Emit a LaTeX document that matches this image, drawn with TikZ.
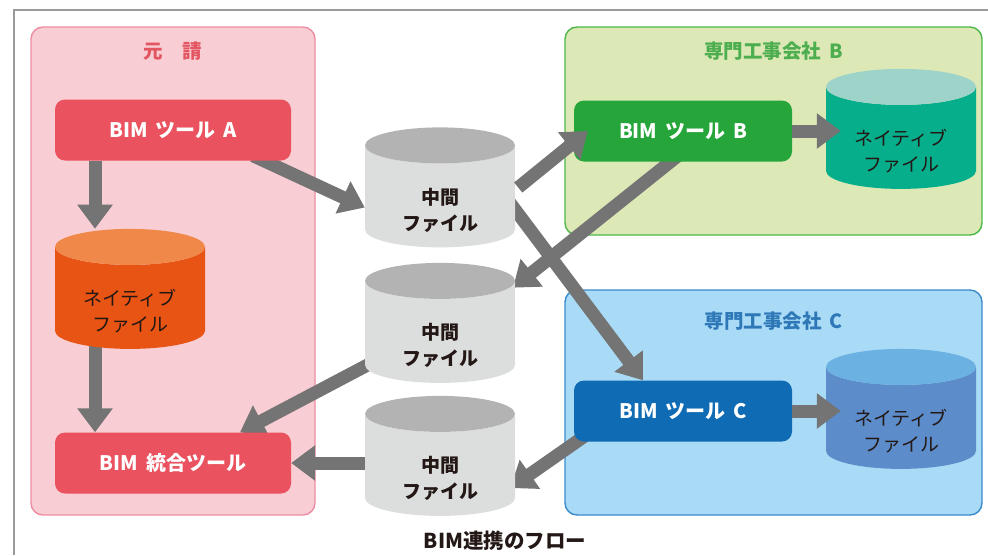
\documentclass[tikz,border=0pt]{standalone}
\usepackage{fontspec}
\setmainfont{Noto Sans CJK JP}[WordSpace=1.7]
\usetikzlibrary{shapes.geometric, arrows.meta, positioning, calc, backgrounds}
\definecolor{pinkbg}{HTML}{F8CDD3}
\definecolor{pinkline}{HTML}{EE8CA2}
\definecolor{redtitle}{HTML}{E35561}
\definecolor{redtool}{HTML}{E9525E}
\definecolor{orangetop}{HTML}{F0884A}
\definecolor{orangebody}{HTML}{E85413}
\definecolor{greenbg}{HTML}{DCE8B6}
\definecolor{greenline}{HTML}{4DB748}
\definecolor{greentitle}{HTML}{4DAE4F}
\definecolor{greentool}{HTML}{26A63A}
\definecolor{tealtop}{HTML}{9DD3C9}
\definecolor{tealbody}{HTML}{06AE8C}
\definecolor{bluebg}{HTML}{A9DBF6}
\definecolor{blueline}{HTML}{3A8BCB}
\definecolor{bluetitle}{HTML}{2F78B8}
\definecolor{bluetool}{HTML}{0E6BB4}
\definecolor{bluetop}{HTML}{6BB1E1}
\definecolor{bluebody}{HTML}{5C8DCA}
\definecolor{greytop}{HTML}{B3B3B3}
\definecolor{greybody}{HTML}{DCDDDD}
\definecolor{arrowgrey}{HTML}{747474}
\definecolor{framegrey}{HTML}{9A9A9A}
\definecolor{ink}{HTML}{231815}
\pgfdeclarelayer{arrowlayer}
\pgfsetlayers{background,arrowlayer,main}

\begin{document}
\begin{tikzpicture}[
    x=1pt, y=-1pt,
    grp/.style={draw, rounded corners=12pt, line width=1.4pt},
    grptitle/.style={font=\bfseries\fontsize{19.5}{22}\selectfont},
    tool/.style={rounded corners=10pt, text=white, font=\bfseries\fontsize{20}{22}\selectfont, minimum height=61pt, inner sep=0pt},
    store/.style={cylinder, shape border rotate=90, aspect=0.36, text width=100pt, minimum width=150pt, minimum height=120pt, cylinder uses custom fill, inner sep=0pt},
    filetext/.style={align=center, text=ink, yshift=-13.5pt, font=\fontsize{19}{26}\selectfont},
    midtext/.style={filetext, font=\bfseries\fontsize{19}{26}\selectfont},
    flow/.style={-{Triangle[length=24pt, width=34pt]}, line width=13pt, arrowgrey},
    frame/.style={draw=framegrey, line width=1.5pt},
    caption/.style={font=\bfseries\fontsize{20.5}{22}\selectfont, text=ink}
]
\useasboundingbox (0,0) rectangle (988,555);
\draw[frame] (14,555) -- (14,10) -- (988,10);

% Groups
\begin{scope}[on background layer]
\node[grp, fill=pinkbg, draw=pinkline, minimum width=284pt, minimum height=488pt] (gA) at (173,271) {};
\node[grp, fill=greenbg, draw=greenline, minimum width=417pt, minimum height=208pt] (gB) at (773.5,131) {};
\node[grp, fill=bluebg, draw=blueline, minimum width=417pt, minimum height=225pt] (gC) at (773.5,402.5) {};
\end{scope}
\node[grptitle, text=redtitle] (tA) at ([yshift=-25pt]gA.north) {元　請};
\node[grptitle, text=greentitle] (tB) at ([yshift=-25pt]gB.north) {専門工事会社 B};
\node[grptitle, text=bluetitle] (tC) at ([yshift=-32pt]gC.north) {専門工事会社 C};

% Tools
\node[tool, fill=redtool, minimum width=236pt] (toolA) at (173,130) {BIM ツール A};
\node[tool, fill=redtool, minimum width=236pt] (integ) at (173,463) {BIM 統合ツール};
\node[tool, fill=greentool, minimum width=218pt] (toolB) at (683,131) {BIM ツール B};
\node[tool, fill=bluetool, minimum width=218pt] (toolC) at (683,411) {BIM ツール C};

% Files
\node[store, cylinder body fill=orangebody, cylinder end fill=orangetop,
      label={[filetext]center:ネイティブ\\ファイル}] (natA) at (130,298) {};
\node[store, cylinder body fill=greybody, cylinder end fill=greytop,
      label={[midtext]center:中間\\ファイル}] (mid1) at (440,196.5) {};
\node[store, cylinder body fill=greybody, cylinder end fill=greytop,
      label={[midtext]center:中間\\ファイル}] (mid2) at (440,332) {};
\node[store, cylinder body fill=greybody, cylinder end fill=greytop,
      label={[midtext]center:中間\\ファイル}] (mid3) at (440,465) {};
\node[store, cylinder body fill=tealbody, cylinder end fill=tealtop,
      label={[filetext]center:ネイティブ\\ファイル}] (natB) at (901,138) {};
\node[store, cylinder body fill=bluebody, cylinder end fill=bluetop,
      label={[filetext]center:ネイティブ\\ファイル}] (natC) at (901,418) {};

\node[caption] (cap) at (505,541) {BIM連携のフロー};

% Connections
\begin{pgfonlayer}{arrowlayer}
\draw[flow] ([xshift=-78pt]toolA.south) -- ([xshift=-35pt]natA.north);
\draw[flow] ([xshift=-35pt, yshift=5pt]natA.south) -- ([xshift=-78pt]integ.north);
\draw[flow] ([xshift=80pt, yshift=5pt]toolA.south) -- ([yshift=-11pt]mid1.west);
\draw[flow] ([xshift=-10pt]mid1.east) -- ([xshift=-40pt]toolC.north);
\draw[flow] ([xshift=-5pt, yshift=6pt]toolB.south) -- ([xshift=73pt, yshift=-25pt]mid2.north);
\draw[flow] ([xshift=-70pt, yshift=8pt]mid2.east) -- ([xshift=67pt]integ.north);
\draw[flow] ([xshift=-95pt, yshift=8pt]toolC.south) -- ([xshift=-5pt, yshift=-23pt]mid3.east);
\draw[flow] ([xshift=5pt]mid3.west |- integ.east) -- (integ.east);
\end{pgfonlayer}
\draw[flow] ([xshift=3pt, yshift=9pt]mid1.east) -- ([xshift=14pt]toolB.west);
\draw[flow] (toolB.east) -- ([xshift=15pt]toolB.east -| natB.west);
\draw[flow] (toolC.east) -- ([xshift=15pt]toolC.east -| natC.west);

\end{tikzpicture}
\end{document}
